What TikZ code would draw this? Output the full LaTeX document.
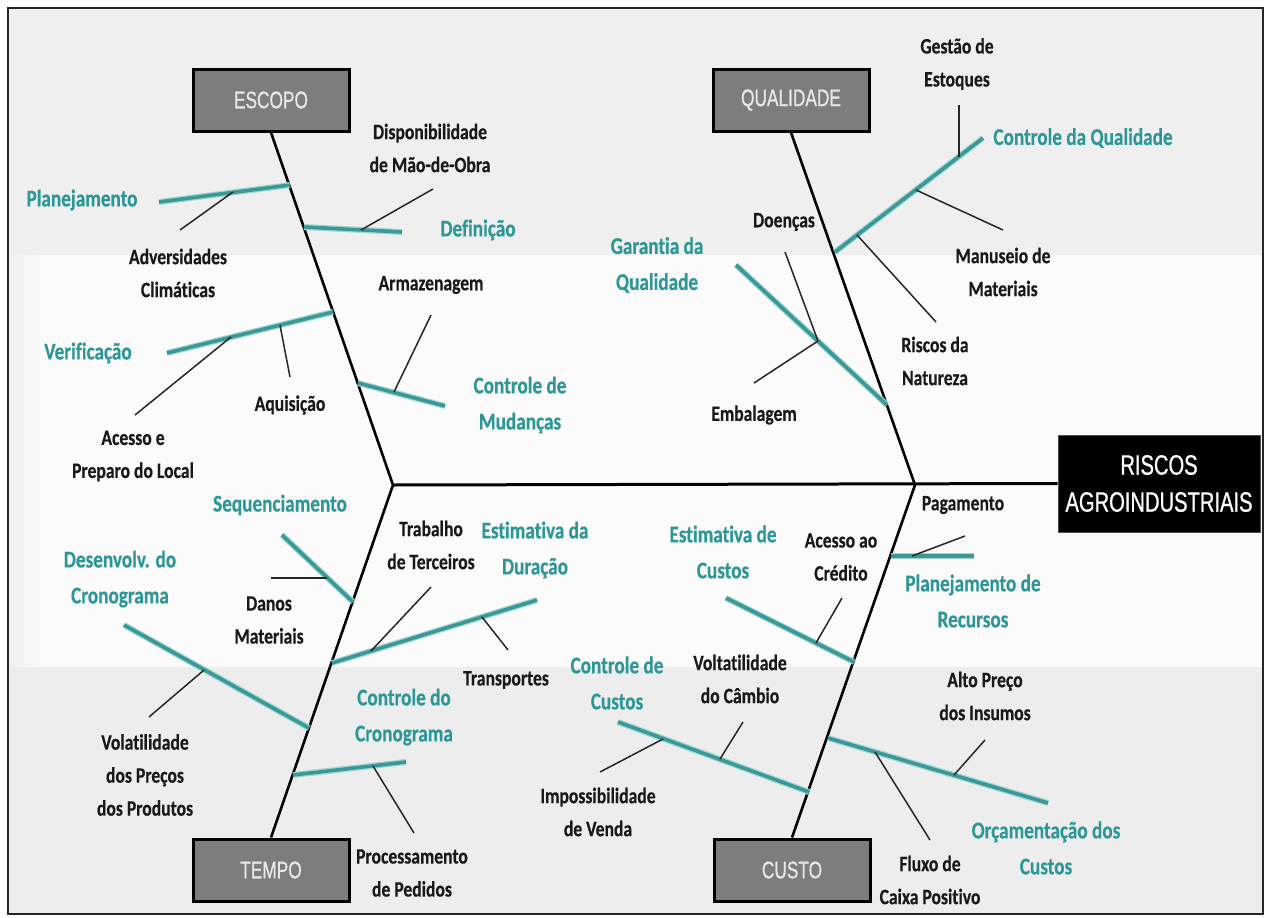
\documentclass[tikz,border=0pt]{standalone}
\usepackage{fontspec}
\newfontfamily\lblfont{Carlito}[FakeStretch=0.8, Ligatures=NoCommon, UprightFont={* Bold}, FakeBold=0.4]
\newfontfamily\boxfont{Liberation Sans}[FakeStretch=0.72, FakeBold=0.8]
\definecolor{tealL}{RGB}{58,152,150}
\definecolor{tealG}{RGB}{160,214,212}
\definecolor{tealT}{RGB}{45,150,150}
\definecolor{boxgray}{RGB}{125,125,125}
\definecolor{boxtext}{RGB}{232,232,232}
\definecolor{bgtop}{RGB}{239,239,239}
\definecolor{bgmid}{RGB}{251,251,251}
\definecolor{bgbot}{RGB}{237,237,237}
\definecolor{lblblack}{RGB}{25,25,25}
\begin{document}
\begin{tikzpicture}[x=1pt,y=-1pt,
  box/.style={draw=black, line width=3pt, fill=boxgray, minimum width=156pt, minimum height=62pt, inner sep=0pt, text=boxtext, font=\boxfont\fontsize{24}{28}\selectfont},
  mainbox/.style={draw=black!70, line width=1pt, fill=black, minimum width=202pt, minimum height=97pt, inner sep=0pt, text=white, align=center, font=\boxfont\fontsize{28}{37}\selectfont},
  blab/.style={align=center, inner sep=0pt, text=lblblack, font=\lblfont\fontsize{22}{33}\selectfont},
  tlab/.style={align=center, inner sep=0pt, text=tealT, font=\lblfont\fontsize{24}{36}\selectfont},
  bone/.style={line width=2.6pt, black},
  spine/.style={line width=3pt, black},
  branch/.style={line width=3.6pt, tealL, line cap=butt, preaction={draw=tealG, line width=6pt}},
  twig/.style={line width=1.5pt, black!85}
]
\useasboundingbox (0,0) rectangle (1266,918);
% background
\fill[white] (0,0) rectangle (1266,918);
\fill[bgtop] (8,8) rectangle (1263,255);
\fill[bgmid] (8,255) rectangle (1263,667);
\shade[left color=bgtop, right color=bgmid] (8,255) rectangle (40,667);
\fill[bgbot] (8,667) rectangle (1263,914);
\draw[line width=1.5pt, black!85] (8,8) rectangle (1263,914);

% category boxes
\node[box] (escopo) at (271,100) {ESCOPO};
\node[box] (qualidade) at (791,100) {QUALIDADE};
\node[box] (tempo) at (271,870) {TEMPO};
\node[box] (custo) at (792,870) {CUSTO};
\node[mainbox] (riscos) at (1159,483.5) {RISCOS\\AGROINDUSTRIAIS};

\coordinate (v1) at (393,485);
\coordinate (v2) at (915,485);

% spine and bones
\draw[spine] (v1) -- (riscos.west);
\draw[bone] (escopo.south) -- (v1) -- (tempo.north);
\draw[bone] (qualidade.south) -- (v2) -- (custo.north);

% ===== ESCOPO =====
\coordinate (pla) at (290,185); \coordinate (plb) at (159,202);
\coordinate (pls) at (233,192); \coordinate (ple) at (180,230);
\coordinate (dfa) at (304,227); \coordinate (dfb) at (402,232);
\coordinate (dfs) at (361,230); \coordinate (dfe) at (433,189);
\coordinate (vea) at (333,312); \coordinate (veb) at (167,353);
\coordinate (ves1) at (231,337); \coordinate (vee1) at (135,415);
\coordinate (ves2) at (280,325); \coordinate (vee2) at (290,377);
\coordinate (cma) at (358,383); \coordinate (cmb) at (445,406);
\coordinate (cms) at (394,392); \coordinate (cme) at (431,315);

\draw[branch] (pla) -- (plb);
\draw[twig] (pls) -- (ple);
\draw[branch] (dfa) -- (dfb);
\draw[twig] (dfs) -- (dfe);
\draw[branch] (vea) -- (veb);
\draw[twig] (ves1) -- (vee1);
\draw[twig] (ves2) -- (vee2);
\draw[branch] (cma) -- (cmb);
\draw[twig] (cms) -- (cme);

\node[tlab] (tPlan) at (82,200) {Planejamento};
\node[blab] (tAdv) at (178,273) {Adversidades\\Climáticas};
\node[blab] (tDisp) at (430,148) {Disponibilidade\\de Mão-de-Obra};
\node[tlab] (tDef) at (478,230) {Definição};
\node[blab] (tArm) at (431,285) {Armazenagem};
\node[tlab] (tVer) at (88,353) {Verificação};
\node[blab] (tAq) at (290,405) {Aquisição};
\node[blab] (tAc) at (133,456) {Acesso e\\Preparo do Local};
\node[tlab] (tCM) at (520,405) {Controle de\\Mudanças};

% ===== QUALIDADE =====
\coordinate (cqa) at (835,252); \coordinate (cqb) at (983,138);
\coordinate (cqs1) at (959,157); \coordinate (cqe1) at (959,105);
\coordinate (cqs2) at (916,190); \coordinate (cqe2) at (1003,230);
\coordinate (cqs3) at (857,235); \coordinate (cqe3) at (936,322);
\coordinate (gqa) at (887,405); \coordinate (gqb) at (736,265);
\coordinate (gqs) at (818,341); \coordinate (gqe1) at (785,252);
\coordinate (gqe2) at (754,383);

\draw[branch] (cqa) -- (cqb);
\draw[twig] (cqs1) -- (cqe1);
\draw[twig] (cqs2) -- (cqe2);
\draw[twig] (cqs3) -- (cqe3);
\draw[branch] (gqa) -- (gqb);
\draw[twig] (gqs) -- (gqe1);
\draw[twig] (gqs) -- (gqe2);

\node[blab] (tGest) at (957,64) {Gestão de\\Estoques};
\node[tlab] (tCQ) at (1083,138) {Controle da Qualidade};
\node[blab] (tMan) at (1003,272) {Manuseio de\\Materiais};
\node[blab] (tRisc) at (935,361) {Riscos da\\Natureza};
\node[blab] (tDoen) at (784,222) {Doenças};
\node[tlab] (tGar) at (657,265) {Garantia da\\Qualidade};
\node[blab] (tEmb) at (754,415) {Embalagem};

% ===== TEMPO =====
\coordinate (sqa) at (353,602); \coordinate (sqb) at (282,535);
\coordinate (sqs) at (327,578); \coordinate (sqe) at (271,578);
\coordinate (dca) at (309,728); \coordinate (dcb) at (124,625);
\coordinate (dcs) at (204,670); \coordinate (dce) at (149,717);
\coordinate (eda) at (332,663); \coordinate (edb) at (537,600);
\coordinate (eds1) at (371,651); \coordinate (ede1) at (431,587);
\coordinate (eds2) at (482,617); \coordinate (ede2) at (508,650);
\coordinate (cca) at (293,775); \coordinate (ccb) at (406,762);
\coordinate (ccs) at (373,766); \coordinate (cce) at (414,833);

\draw[branch] (sqa) -- (sqb);
\draw[twig] (sqs) -- (sqe);
\draw[branch] (dca) -- (dcb);
\draw[twig] (dcs) -- (dce);
\draw[branch] (eda) -- (edb);
\draw[twig] (eds1) -- (ede1);
\draw[twig] (eds2) -- (ede2);
\draw[branch] (cca) -- (ccb);
\draw[twig] (ccs) -- (cce);

\node[tlab] (tSeq) at (280,505) {Sequenciamento};
\node[tlab] (tDes) at (120,579) {Desenvolv. do\\Cronograma};
\node[blab] (tDan) at (269,620) {Danos\\Materiais};
\node[blab] (tTrab) at (431,545) {Trabalho\\de Terceiros};
\node[tlab] (tED) at (535,550) {Estimativa da\\Duração};
\node[blab] (tTrans) at (506,680) {Transportes};
\node[blab] (tVol) at (145,775) {Volatilidade\\dos Preços\\dos Produtos};
\node[tlab] (tCC) at (404,717) {Controle do\\Cronograma};
\node[blab] (tProc) at (412,873) {Processamento\\de Pedidos};

% ===== CUSTO =====
\coordinate (pra) at (891,556); \coordinate (prb) at (974,556);
\coordinate (prs) at (912,556); \coordinate (pre) at (965,536);
\coordinate (eca) at (854,662); \coordinate (ecb) at (726,598);
\coordinate (ecs) at (816,643); \coordinate (ece) at (842,598);
\coordinate (kca) at (809,792); \coordinate (kcb) at (618,722);
\coordinate (kcs1) at (663,739); \coordinate (kce1) at (600,772);
\coordinate (kcs2) at (720,759); \coordinate (kce2) at (743,722);
\coordinate (oca) at (828,738); \coordinate (ocb) at (1048,803);
\coordinate (ocs1) at (875,752); \coordinate (oce1) at (930,840);
\coordinate (ocs2) at (954,775); \coordinate (oce2) at (985,740);

\draw[branch] (pra) -- (prb);
\draw[twig] (prs) -- (pre);
\draw[branch] (eca) -- (ecb);
\draw[twig] (ecs) -- (ece);
\draw[branch] (kca) -- (kcb);
\draw[twig] (kcs1) -- (kce1);
\draw[twig] (kcs2) -- (kce2);
\draw[branch] (oca) -- (ocb);
\draw[twig] (ocs1) -- (oce1);
\draw[twig] (ocs2) -- (oce2);

\node[blab] (tPag) at (963,505) {Pagamento};
\node[tlab] (tPR) at (973,601) {Planejamento de\\Recursos};
\node[tlab] (tEC) at (723,552) {Estimativa de\\Custos};
\node[blab] (tAcr) at (841,557) {Acesso ao\\Crédito};
\node[tlab] (tKC) at (617,683) {Controle de\\Custos};
\node[blab] (tVC) at (740,679) {Voltatilidade\\do Câmbio};
\node[blab] (tImp) at (598,812) {Impossibilidade\\de Venda};
\node[blab] (tAlto) at (985,696) {Alto Preço\\dos Insumos};
\node[tlab] (tOrc) at (1046,848) {Orçamentação dos\\Custos};
\node[blab] (tFlux) at (930,880) {Fluxo de\\Caixa Positivo};
\end{tikzpicture}
\end{document}
